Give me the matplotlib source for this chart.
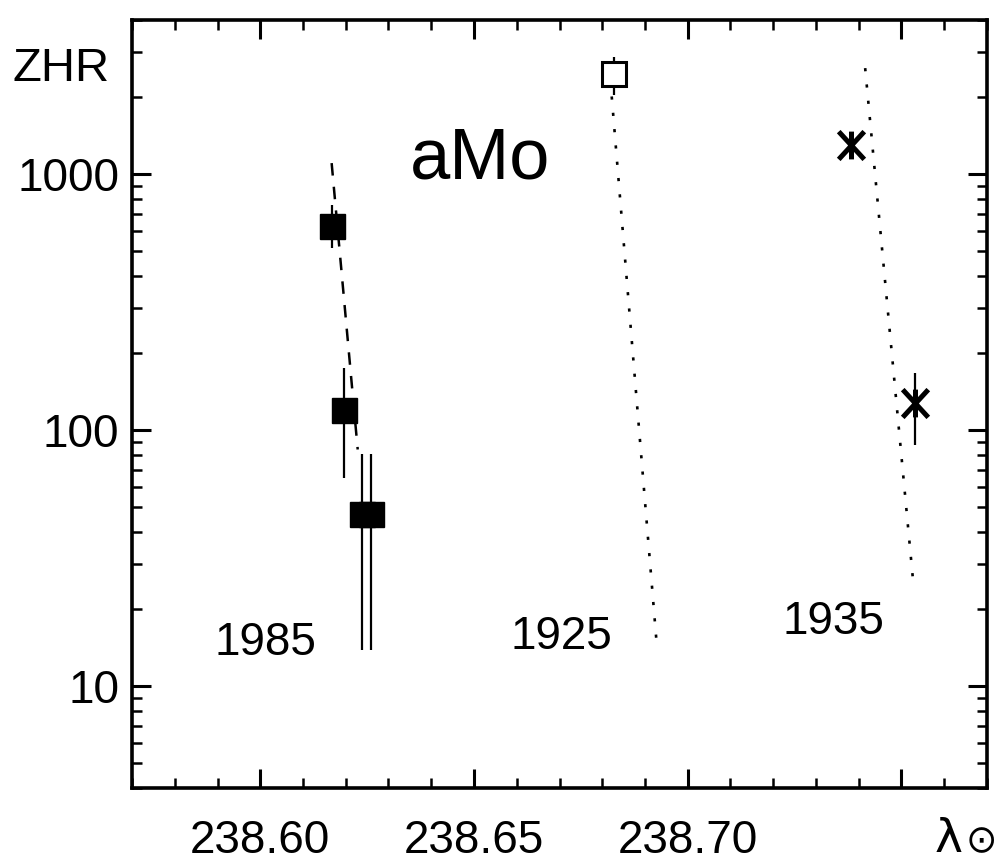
import numpy as np
import matplotlib
matplotlib.use("Agg")
import matplotlib.pyplot as plt
from matplotlib.path import Path
from matplotlib.ticker import FixedLocator, MultipleLocator, LogLocator, NullFormatter, FixedFormatter

# ---- data ----
obs1985_lon = [238.6168, 238.6196, 238.6238, 238.6259]
obs1985_zhr = [627, 120, 47, 47]
obs1985_hi = [757, 175, 81, 81]
obs1985_lo = [514, 65, 13.8, 13.8]

obs1925_lon = [238.6828]
obs1925_zhr = [2450]
obs1925_hi = [2865]
obs1925_lo = [2036]

obs1935_lon = [238.7381, 238.7532]
obs1935_zhr = [1298, 127.5]
obs1935_hi = [1298, 167]
obs1935_lo = [1298, 87.3]

fit1985_lon = [238.6167, 238.6228]
fit1985_zhr = [1104, 84]
fit1925_lon = [238.6819, 238.6928]
fit1925_zhr = [2328, 14.2]
fit1935_lon = [238.7415, 238.7527]
fit1935_zhr = [2594, 25.9]

year_labels = ["1985", "1925", "1935"]
year_label_lon = [238.6013, 238.6704, 238.7340]
year_label_zhr = [14.8, 15.5, 17.8]

x_major = [238.60, 238.65, 238.70, 238.75]
x_major_labels = ["238.60", "238.65", "238.70", ""]
y_major = [10, 100, 1000]
y_major_labels = ["10", "100", "1000"]

# ---- figure ----
plt.rcParams['font.family'] = ['Liberation Sans', 'DejaVu Sans']
fig = plt.figure(figsize=(10, 8.61), dpi=100)
ax = fig.add_axes([0.132, 0.0848, 0.855, 0.892])

ax.set_yscale('log')
ax.set_xlim(238.57, 238.77)
ax.set_ylim(4, 4000)

def err(v, lo, hi):
    v = np.asarray(v, float)
    return np.vstack([v - np.asarray(lo, float), np.asarray(hi, float) - v])

# asterisk-like marker (X with vertical stroke)
ast = Path([(-0.92, -1), (0.92, 1), (-0.92, 1), (0.92, -1), (0, -1), (0, 1)],
           [Path.MOVETO, Path.LINETO, Path.MOVETO, Path.LINETO, Path.MOVETO, Path.LINETO])

# fits
ax.plot(fit1985_lon, fit1985_zhr, color='black', lw=1.8, ls=(0, (5.0, 4.5)))
ax.plot(fit1925_lon, fit1925_zhr, color='black', lw=1.9, ls=(0, (1.2, 5.0)))
ax.plot(fit1935_lon, fit1935_zhr, color='black', lw=1.9, ls=(0, (1.2, 5.0)))

# observations
ax.errorbar(obs1985_lon, obs1985_zhr, yerr=err(obs1985_zhr, obs1985_lo, obs1985_hi),
            fmt='s', color='black', ms=18, elinewidth=1.6, capsize=0)
ax.errorbar(obs1925_lon, obs1925_zhr, yerr=err(obs1925_zhr, obs1925_lo, obs1925_hi),
            fmt='s', color='black', mfc='white', mec='black', mew=2.2, ms=17,
            elinewidth=1.6, capsize=0)
ax.errorbar(obs1935_lon, obs1935_zhr, yerr=err(obs1935_zhr, obs1935_lo, obs1935_hi),
            fmt='none', ecolor='black', elinewidth=1.6, capsize=0)
ax.plot(obs1935_lon, obs1935_zhr, ls='none', marker=ast, color='black',
        mfc='none', ms=20, mew=3.6)

# labels
for lab, lx, ly in zip(year_labels, year_label_lon, year_label_zhr):
    ax.text(lx, ly, lab, fontsize=33, ha='center', va='center')
ax.text(238.6514, 1134, "aMo", fontsize=52, ha='center', va='center')
fig.text(0.061, 1 - 69 / 861, "ZHR", fontsize=34, ha='center', va='center')
fig.text(0.935, 1 - 852 / 861, "\u03bb", fontsize=34, ha='left', va='baseline',
         family='DejaVu Sans')
fig.text(0.981, 1 - 842 / 861, "\u2299", fontsize=27, ha='center', va='center',
         family='DejaVu Sans')

# ticks
ax.xaxis.set_major_locator(FixedLocator(x_major))
ax.xaxis.set_major_formatter(FixedFormatter(x_major_labels))
ax.xaxis.set_minor_locator(MultipleLocator(0.01))
ax.yaxis.set_major_locator(FixedLocator(y_major))
ax.yaxis.set_major_formatter(FixedFormatter(y_major_labels))
ax.yaxis.set_minor_locator(LogLocator(base=10, subs=np.arange(2, 10)))
ax.yaxis.set_minor_formatter(NullFormatter())

ax.tick_params(which='both', direction='in', top=True, right=True, colors='black')
ax.tick_params(which='major', length=14, width=2.2, labelsize=33)
ax.tick_params(which='minor', length=7, width=1.8)
ax.tick_params(axis='x', which='major', pad=22)
ax.tick_params(axis='y', which='major', pad=9)

for s in ax.spines.values():
    s.set_linewidth(2.6)

fig.savefig("out.png", dpi=100, facecolor='white')
